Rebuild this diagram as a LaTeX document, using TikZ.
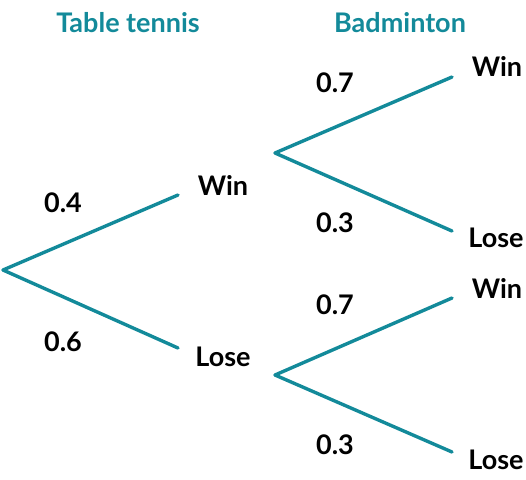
\documentclass[tikz,border=0pt]{standalone}
\usepackage{fontspec}
\setmainfont{Lato}
\definecolor{teal1}{HTML}{138A9A}
\begin{document}
\begin{tikzpicture}[x=1pt,y=-1pt,
  br/.style={draw=teal1,line width=3.4pt,line cap=round},
  lab/.style={font=\fontsize{27}{29}\selectfont\bfseries,text=black,inner sep=0pt},
  head/.style={font=\fontsize{27}{29}\selectfont\bfseries,text=teal1,inner sep=0pt}]
\useasboundingbox (0,0) rectangle (526,479);
\node[head] (h1) at (128,23) {Table tennis};
\node[head] (h2) at (400,23) {Badminton};
\coordinate (r) at (3,270);
\coordinate (a1) at (178,195);
\coordinate (a2) at (178,348);
\coordinate (b1) at (275,153);
\coordinate (b2) at (275,375);
\coordinate (c1) at (452,77);
\coordinate (c2) at (452,231);
\coordinate (c3) at (452,298);
\coordinate (c4) at (452,452);
\draw[br] (r) -- (a1);
\draw[br] (r) -- (a2);
\draw[br] (b1) -- (c1);
\draw[br] (b1) -- (c2);
\draw[br] (b2) -- (c3);
\draw[br] (b2) -- (c4);
\node[lab] (w1) at (223,185) {Win};
\node[lab] (l1) at (223,357) {Lose};
\node[lab] (p1) at (63,203) {0.4};
\node[lab] (p2) at (63,342) {0.6};
\node[lab] (p3) at (335,83) {0.7};
\node[lab] (p4) at (335,223) {0.3};
\node[lab] (p5) at (335,305) {0.7};
\node[lab] (p6) at (335,445) {0.3};
\node[lab] (w2) at (497,66) {Win};
\node[lab] (l2) at (496,238) {Lose};
\node[lab] (w3) at (497,288) {Win};
\node[lab] (l3) at (496,460) {Lose};
\end{tikzpicture}
\end{document}
